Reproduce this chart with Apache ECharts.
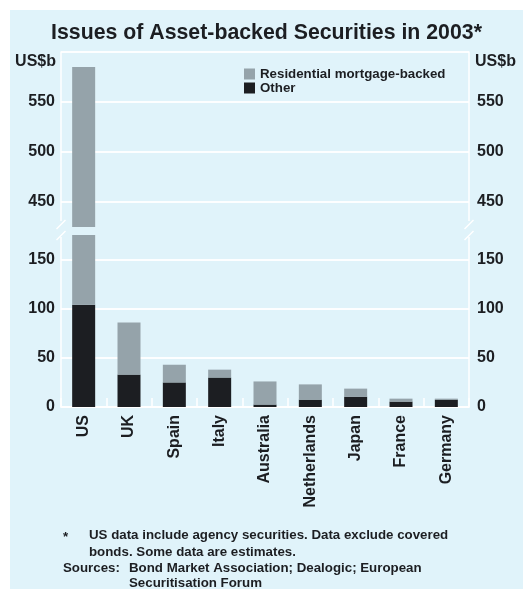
<!DOCTYPE html>
<html>
<head>
<meta charset="utf-8">
<script src="https://cdn.jsdelivr.net/npm/echarts@6/dist/echarts.min.js"></script>
<style>
  html, body { margin: 0; padding: 0; background: #ffffff; }
  #chart { width: 523px; height: 589px; }
</style>
</head>
<body>
<div id="chart"></div>
<script>
// Issuance by country, 2003, US$ billions
const countries = ['US', 'UK', 'Spain', 'Italy', 'Australia', 'Netherlands', 'Japan', 'France', 'Germany'];
const residentialMortgage = [481, 53, 18, 8, 23.5, 15.5, 8.2, 3, 1];
const other = [104, 33, 25, 30, 2.5, 7.5, 10.5, 5.5, 7.5];

// Broken value axis: upper panel and lower panel ranges with their ticks
const upperRange = [425, 600];
const lowerRange = [0, 175];
const upperLabels = [450, 500, 550];
const upperLines = [450, 500, 550, 600];
const lowerLabels = [0, 50, 100, 150];

const FONT = '"Liberation Sans", Arial, Helvetica, sans-serif';
const INK = '#1c1e22';
const GREY = '#95a3aa';
const PANEL = '#e0f3fa';
const WHITE_LINE = { color: '#ffffff', width: 1.5 };

const labelStyle = { fontFamily: FONT, fontWeight: 'bold', fontSize: 16, color: INK };

function valueAxis(grid, side, range, labels, lines) {
  return {
    type: 'value',
    gridIndex: grid,
    position: side,
    min: range[0],
    max: range[1],
    axisLine: { show: true, lineStyle: WHITE_LINE },
    axisTick: { show: false, customValues: lines },
    axisLabel: Object.assign({ customValues: labels, margin: side === 'left' ? 6 : 8 }, labelStyle),
    splitLine: { show: true, lineStyle: WHITE_LINE }
  };
}

function barSeries(name, data, color, stack, xIdx, yIdx) {
  return {
    name: name,
    type: 'bar',
    stack: stack,
    xAxisIndex: xIdx,
    yAxisIndex: yIdx,
    barWidth: 23,
    clip: true,
    itemStyle: { color: color },
    data: data
  };
}

const chart = echarts.init(document.getElementById('chart'), null, { renderer: 'canvas' });

function breakMarks(x) {
  return [
    { type: 'rect', shape: { x: x - 2, y: 221, width: 4, height: 16 }, style: { fill: PANEL }, z: 100 },
    { type: 'line', shape: { x1: x - 4.5, y1: 229, x2: x + 4.5, y2: 220 }, style: { stroke: '#ffffff', lineWidth: 1.5 }, z: 101 },
    { type: 'line', shape: { x1: x - 4.5, y1: 240, x2: x + 4.5, y2: 231 }, style: { stroke: '#ffffff', lineWidth: 1.5 }, z: 101 }
  ];
}

function note(text, x, y) {
  return {
    type: 'text', x: x, y: y, z: 100,
    style: { text: text, font: 'bold 13.3px ' + FONT, fill: INK, textVerticalAlign: 'middle' }
  };
}

chart.setOption({
  animation: false,
  backgroundColor: '#ffffff',
  graphic: [
    { type: 'rect', shape: { x: 10, y: 10, width: 513, height: 579 }, style: { fill: PANEL }, z: -10, silent: true },
    {
      type: 'text', x: 266.5, y: 33, z: 100,
      style: { text: 'Issues of Asset-backed Securities in 2003*', font: 'bold 21.3px ' + FONT, fill: INK, textAlign: 'center', textVerticalAlign: 'middle' }
    },
    {
      type: 'text', x: 56, y: 62, z: 100,
      style: { text: 'US$b', font: 'bold 16px ' + FONT, fill: INK, textAlign: 'right', textVerticalAlign: 'middle' }
    },
    {
      type: 'text', x: 475, y: 62, z: 100,
      style: { text: 'US$b', font: 'bold 16px ' + FONT, fill: INK, textAlign: 'left', textVerticalAlign: 'middle' }
    },
    ...breakMarks(61),
    ...breakMarks(469),
    note('*', 63, 537),
    note('US data include agency securities. Data exclude covered', 89, 535),
    note('bonds. Some data are estimates.', 89, 552),
    note('Sources:', 63, 568),
    note('Bond Market Association; Dealogic; European', 129, 568),
    note('Securitisation Forum', 129, 583)
  ],
  legend: {
    left: 239,
    top: 62,
    orient: 'vertical',
    itemWidth: 11,
    itemHeight: 11,
    itemGap: 0,
    icon: 'rect',
    data: ['Residential mortgage-backed', 'Other'],
    textStyle: { fontFamily: FONT, fontWeight: 'bold', fontSize: 13.3, color: INK, lineHeight: 14 }
  },
  grid: [
    { left: 61, right: 54, top: 52, height: 175 },
    { left: 61, right: 54, top: 235, height: 172 }
  ],
  xAxis: [
    { type: 'category', gridIndex: 0, data: countries, show: false },
    {
      type: 'category', gridIndex: 1, data: countries,
      axisLine: { show: true, lineStyle: WHITE_LINE },
      axisTick: { show: true, inside: true, length: 9, lineStyle: WHITE_LINE },
      axisLabel: Object.assign({ rotate: 90, margin: 8, interval: 0 }, labelStyle)
    }
  ],
  yAxis: [
    valueAxis(0, 'left', upperRange, upperLabels, upperLines),
    valueAxis(0, 'right', upperRange, upperLabels, upperLines),
    valueAxis(1, 'left', lowerRange, lowerLabels, lowerLabels),
    valueAxis(1, 'right', lowerRange, lowerLabels, lowerLabels)
  ],
  series: [
    barSeries('Other', other, INK, 'upper', 0, 0),
    barSeries('Residential mortgage-backed', residentialMortgage, GREY, 'upper', 0, 0),
    barSeries('Other', other, INK, 'lower', 1, 2),
    barSeries('Residential mortgage-backed', residentialMortgage, GREY, 'lower', 1, 2)
  ]
});
</script>
</body>
</html>
